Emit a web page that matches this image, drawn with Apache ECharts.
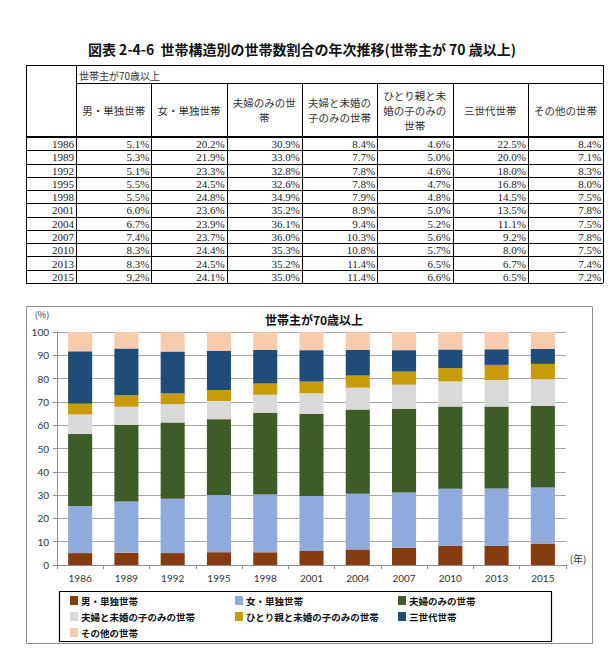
<!DOCTYPE html>
<html>
<head>
<meta charset="utf-8">
<script src="https://cdn.jsdelivr.net/npm/echarts@6/dist/echarts.min.js"></script>
<style>
html,body{margin:0;padding:0;background:#fff;}
#main{width:615px;height:665px;}
</style>
</head>
<body>
<div id="main"></div>
<script>
// ---- data ----
const years = ['1986','1989','1992','1995','1998','2001','2004','2007','2010','2013','2015'];
const seriesNames = ['男・単独世帯','女・単独世帯','夫婦のみの世帯','夫婦と未婚の子のみの世帯','ひとり親と未婚の子のみの世帯','三世代世帯','その他の世帯'];
const tableHeaders = ['男・単独世帯','女・単独世帯','夫婦のみの世\n帯','夫婦と未婚の\n子のみの世帯','ひとり親と未\n婚の子のみの\n世帯','三世代世帯','その他の世帯'];
const maleSingle     = [5.1, 5.3, 5.1, 5.5, 5.5, 6.0, 6.7, 7.4, 8.3, 8.3, 9.2];
const femaleSingle   = [20.2, 21.9, 23.3, 24.5, 24.8, 23.6, 23.9, 23.7, 24.4, 24.5, 24.1];
const coupleOnly     = [30.9, 33.0, 32.8, 32.6, 34.9, 35.2, 36.1, 36.0, 35.3, 35.2, 35.0];
const coupleChildren = [8.4, 7.7, 7.8, 7.8, 7.9, 8.9, 9.4, 10.3, 10.8, 11.4, 11.4];
const singleParent   = [4.6, 5.0, 4.6, 4.7, 4.8, 5.0, 5.2, 5.6, 5.7, 6.5, 6.6];
const threeGen       = [22.5, 20.0, 18.0, 16.8, 14.5, 13.5, 11.1, 9.2, 8.0, 6.7, 6.5];
const otherHH        = [8.4, 7.1, 8.3, 8.0, 7.5, 7.8, 7.5, 7.8, 7.5, 7.4, 7.2];
const pageTitle = '図表 2-4-6  世帯構造別の世帯数割合の年次推移(世帯主が 70 歳以上)';
const groupLabel = '世帯主が70歳以上';
const chartTitle = '世帯主が70歳以上';

const seriesValues = [maleSingle, femaleSingle, coupleOnly, coupleChildren, singleParent, threeGen, otherHH];
const colors = ['#853C10','#8FAADC','#3D5C28','#D9D9D9','#C89B0A','#204D78','#F8CBAD'];

// ---- table layout (graphic) ----
const T = {left:26, right:603, top:65, head1:83, head2:137, rowH:13.27, yearColR:76, colW:75.3};
const g = [];
const CJK = '"Noto Sans CJK JP", sans-serif';
const SERIF = '"Liberation Serif", "DejaVu Serif", serif';
function hline(x1,x2,y,w){ g.push({type:'line', silent:true, shape:{x1:x1,y1:y,x2:x2,y2:y}, style:{stroke:'#000', lineWidth:w||1}}); }
function vline(x,y1,y2,w){ g.push({type:'line', silent:true, shape:{x1:x,y1:y1,x2:x,y2:y2}, style:{stroke:'#000', lineWidth:w||1}}); }
function txt(x,y,s,opt){ g.push({type:'text', silent:true, x:x, y:y, style:Object.assign({text:s, fill:'#222', fontSize:10, fontFamily:CJK, verticalAlign:'middle'}, opt||{})}); }

// page title
txt(302, 49, pageTitle, {fontSize:14, fontWeight:'bold', align:'center', fill:'#111'});

const nRows = years.length;
const bottom = T.head2 + nRows*T.rowH;
hline(T.left, T.right, T.top + 0.5);
hline(T.yearColR, T.right, T.head1 + 0.5);
hline(T.left, T.right, T.head2, 2.2);
for (let i=1;i<=nRows;i++) hline(T.left, T.right, Math.round(T.head2 + i*T.rowH) + 0.5);
vline(T.left + 0.5, T.top, bottom);
vline(T.yearColR + 0.5, T.top, bottom);
vline(T.right + 0.5, T.top, bottom);
for (let c=1;c<seriesNames.length;c++){
  const x = Math.round(T.yearColR + c*T.colW) + 0.5;
  vline(x, T.head1, bottom);
}
txt(T.yearColR + 3, (T.top + T.head1)/2 + 1, groupLabel, {fontSize:10, fill:'#333'});
tableHeaders.forEach(function(h, c){
  const cx = T.yearColR + (c + 0.5)*T.colW;
  txt(cx, (T.head1 + T.head2)/2, h, {align:'center', fontSize:10.5, lineHeight:15, fill:'#333'});
});
years.forEach(function(y, r){
  const cy = T.head2 + (r + 0.5)*T.rowH + 0.5;
  txt(T.yearColR - 2, cy, y, {align:'right', fontFamily:SERIF, fontSize:11, fill:'#222'});
  seriesValues.forEach(function(arr, c){
    const xr = T.yearColR + (c + 1)*T.colW - 2;
    txt(xr, cy, arr[r].toFixed(1) + '%', {align:'right', fontFamily:SERIF, fontSize:11, fill:'#222'});
  });
});

// chart frame, titles, legend box
g.push({type:'rect', silent:true, shape:{x:26.5, y:306.5, width:566, height:337}, style:{fill:'none', stroke:'#8C8C8C', lineWidth:1}});
txt(314, 319, chartTitle, {align:'center', fontSize:12, fontWeight:'bold', fill:'#111'});
txt(42, 314, '(%)', {align:'center', fontSize:9, fill:'#333'});
txt(578, 558, '(年)', {align:'center', fontSize:10, fill:'#333'});
g.push({type:'rect', silent:true, z:-1, shape:{x:59.5, y:591.5, width:492, height:50}, style:{fill:'none', stroke:'#000', lineWidth:1.2}});

const legendBase = {
  orient:'vertical', top:594, padding:0, itemWidth:8, itemHeight:9, itemGap:3,
  icon:'rect', selectedMode:false,
  textStyle:{fontSize:9.5, fontWeight:'bold', color:'#111', lineHeight:13, fontFamily:CJK, padding:[0,0,0,-2]}
};
const chart = echarts.init(document.getElementById('main'), null, {renderer:'svg'});
chart.setOption({
  animation:false,
  color: colors,
  legend:[
    Object.assign({}, legendBase, {left:70, data:[seriesNames[0], seriesNames[3], seriesNames[6]]}),
    Object.assign({}, legendBase, {left:235, data:[seriesNames[1], seriesNames[4]]}),
    Object.assign({}, legendBase, {left:398, data:[seriesNames[2], seriesNames[5]]})
  ],
  grid:{left:57, right:49, top:332, bottom:100, containLabel:false},
  xAxis:{
    type:'category', data:years,
    axisLine:{lineStyle:{color:'#8C8C8C'}},
    axisTick:{show:true, length:4, lineStyle:{color:'#8C8C8C'}},
    axisLabel:{fontSize:10, color:'#333', margin:8, fontFamily:'Lato, "Open Sans", sans-serif'}
  },
  yAxis:{
    type:'value', min:0, max:100, interval:10,
    axisLine:{show:true, lineStyle:{color:'#8C8C8C'}},
    axisTick:{show:true, length:4, lineStyle:{color:'#8C8C8C'}},
    splitLine:{lineStyle:{color:'#A6A6A6'}},
    axisLabel:{fontSize:10, color:'#333', margin:8, fontFamily:'Lato, "Open Sans", sans-serif'}
  },
  series: seriesNames.map(function(n, i){
    return {name:n, type:'bar', stack:'total', data:seriesValues[i], barWidth:'52%', itemStyle:{color:colors[i]}};
  }),
  graphic: g
});
</script>
</body>
</html>
